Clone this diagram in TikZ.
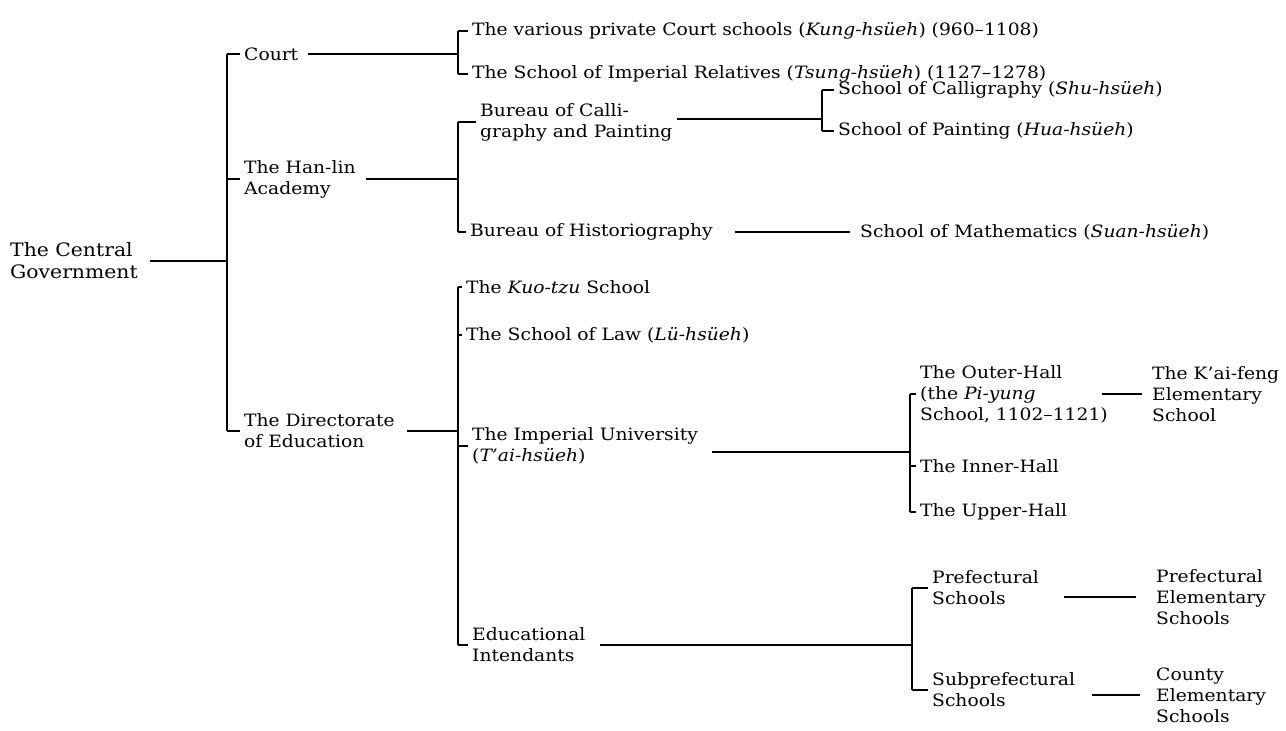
\documentclass[tikz,border=0pt]{standalone}
\usepackage{fontspec}
\setmainfont{DejaVu Serif}[FakeStretch=1.1]
\usetikzlibrary{positioning,calc}
\newcommand{\myfs}{\fontsize{17}{21}\selectfont}
\newcommand{\mygap}{4pt}
\tikzset{
    txtsty/.style={anchor=west,inner sep=0pt,align=left,font=\myfs},
    topsty/.style={txtsty,font=\fontsize{18.5}{22}\selectfont},
    linsty/.style={draw,line width=1.4pt},
}

\begin{document}
\begin{tikzpicture}[x=1pt,y=-1pt,>=latex]
\useasboundingbox[fill=white] (0,0) rectangle (1286,731);
\node[topsty] (cg)      at (10,261)  {The Central\\Government};
\node[txtsty] (court)   at (244,54)  {Court};
\node[txtsty] (hanlin)  at (244,179) {The Han-lin\\Academy};
\node[txtsty] (direct)  at (244,431) {The Directorate\\of Education};
\node[txtsty] (kung)    at (472,31)  {The various private Court schools (\textit{Kung-hsüeh}) (960--1108)};
\node[txtsty] (tsung)   at (472,74)  {The School of Imperial Relatives (\textit{Tsung-hsüeh}) (1127--1278)};
\node[txtsty] (bcal)    at (480,122) {Bureau of Calli-\\graphy and Painting};
\node[txtsty] (hist)    at (470,232) {Bureau of Historiography};
\node[txtsty] (shu)     at (838,90)  {School of Calligraphy (\textit{Shu-hsüeh})};
\node[txtsty] (hua)     at (838,131) {School of Painting (\textit{Hua-hsüeh})};
\node[txtsty] (suan)    at (860,232) {School of Mathematics (\textit{Suan-hsüeh})};
\node[txtsty] (kuo)     at (466,287) {The \textit{Kuo-tzu} School};
\node[txtsty] (law)     at (466,335) {The School of Law (\textit{Lü-hsüeh})};
\node[txtsty] (imp)     at (472,446) {The Imperial University\\(\textit{T'ai-hsüeh})};
\node[txtsty] (eduint)  at (472,645) {Educational\\Intendants};
\node[txtsty] (outer)   at (920,394) {The Outer-Hall\\(the \textit{Pi-yung}\\School, 1102--1121)};
\node[txtsty] (inner)   at (920,466) {The Inner-Hall};
\node[txtsty] (upper)   at (920,512) {The Upper-Hall};
\node[txtsty] (kaifeng) at (1152,394) {The K'ai-feng\\Elementary\\School};
\node[txtsty] (pref)    at (932,588) {Prefectural\\Schools};
\node[txtsty] (subpref) at (932,690) {Subprefectural\\Schools};
\node[txtsty] (prefel)  at (1156,597) {Prefectural\\Elementary\\Schools};
\node[txtsty] (county)  at (1156,695) {County\\Elementary\\Schools};

\coordinate (sa) at (227,0);
\coordinate (sb) at (458,0);
\coordinate (sd) at (822,0);
\coordinate (sf) at (910,0);
\coordinate (sg) at (912,0);

\draw[linsty] (court.west -| sa) -- (direct.west -| sa);
\draw[linsty] ([xshift=12pt]cg.east) -- (cg.east -| sa);
\foreach \n in {court,hanlin,direct}
  \draw[linsty] (\n.west -| sa) -- ([xshift=-\mygap]\n.west);
\draw[linsty] ([xshift=10pt]court.east) -- (court.east -| sb);
\draw[linsty] ([xshift=10pt]hanlin.east) -- (hanlin.east -| sb);
\draw[linsty] ([xshift=12pt]direct.east) -- (direct.east -| sb);

\draw[linsty] (kung.west -| sb) -- (tsung.west -| sb);
\foreach \n in {kung,tsung}
  \draw[linsty] (\n.west -| sb) -- ([xshift=-\mygap]\n.west);

\draw[linsty] (bcal.west -| sb) -- (hist.west -| sb);
\foreach \n in {bcal,hist}
  \draw[linsty] (\n.west -| sb) -- ([xshift=-\mygap]\n.west);
\draw[linsty] ([xshift=4pt,yshift=3pt]bcal.east) -- ([yshift=3pt]bcal.east -| sd);
\draw[linsty] (shu.west -| sd) -- (hua.west -| sd);
\foreach \n in {shu,hua}
  \draw[linsty] (\n.west -| sd) -- ([xshift=-\mygap]\n.west);
\draw[linsty] ([xshift=22pt]hist.east) -- ([xshift=-10pt]suan.west);

\draw[linsty] (kuo.west -| sb) -- (eduint.west -| sb);
\foreach \n in {kuo,law,imp,eduint}
  \draw[linsty] (\n.west -| sb) -- ([xshift=-\mygap]\n.west);
\draw[linsty] ([xshift=14pt,yshift=-6pt]imp.east) -- ([yshift=-6pt]imp.east -| sf);
\draw[linsty] (outer.west -| sf) -- (upper.west -| sf);
\foreach \n in {outer,inner,upper}
  \draw[linsty] (\n.west -| sf) -- ([xshift=-\mygap]\n.west);
\draw[linsty] (kaifeng.west) ++(-10pt,0) -- ++(-40pt,0);

\draw[linsty] ([xshift=14pt]eduint.east) -- (eduint.east -| sg);
\draw[linsty] (pref.west -| sg) -- (subpref.west -| sg);
\foreach \n in {pref,subpref}
  \draw[linsty] (\n.west -| sg) -- ([xshift=-\mygap]\n.west);
\draw[linsty] (prefel.west) ++(-20pt,0) -- ++(-72pt,0);
\draw[linsty] (county.west) ++(-16pt,0) -- ++(-48pt,0);
\end{tikzpicture}
\end{document}
